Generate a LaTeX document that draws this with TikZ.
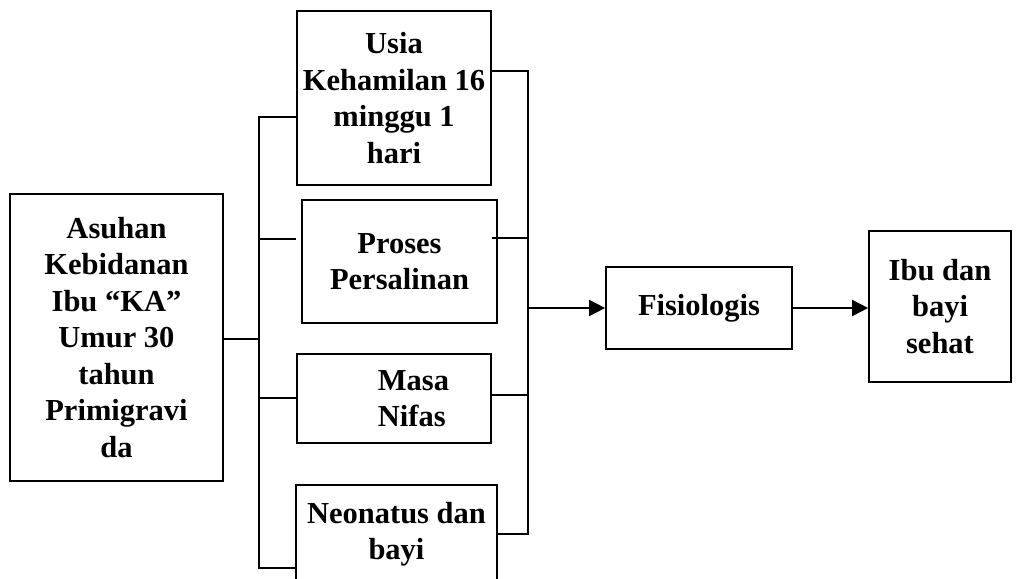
\documentclass[tikz,border=0pt]{standalone}
\usepackage{fontspec}
\setmainfont{Liberation Serif}
\usetikzlibrary{arrows.meta}
\begin{document}
\begin{tikzpicture}[x=1pt,y=-1pt,
  box/.style={draw, line width=1.7pt, align=center, inner sep=0pt,
    font=\fontsize{30.5}{36.5}\selectfont\bfseries},
  conn/.style={line width=1.8pt},
  arr/.style={conn,-{Triangle[length=16pt,width=16pt]}}]
\useasboundingbox (0,0) rectangle (1016,578);
\clip (0,0) rectangle (1016,578);
% boxes
\node[box, minimum width=213pt, minimum height=287pt] (left) at (116.5,337.5)
  {Asuhan\\Kebidanan\\Ibu “KA”\\Umur 30\\tahun\\Primigravi\\da};
\node[box, minimum width=194pt, minimum height=174pt] (usia) at (394,98)
  {Usia\\Kehamilan 16\\minggu 1\\hari};
\node[box, minimum width=195pt, minimum height=123pt] (proses) at (399.5,261.5)
  {Proses\\Persalinan};
\node[box, align=left, minimum width=194pt, minimum height=89pt] (masa) at (394,398.5)
  {\hspace*{39pt}Masa\\\hspace*{39pt}Nifas};
\node[box, minimum width=201pt, minimum height=98pt] (neo) at (396.5,534)
  {Neonatus dan\\bayi};
\node[box, minimum width=186pt, minimum height=82pt] (fis) at (699,308)
  {Fisiologis};
\node[box, minimum width=142pt, minimum height=151pt] (ibu) at (940,306.5)
  {Ibu dan\\bayi\\sehat};
% bus coordinates
\coordinate (bt) at (259,117);
\coordinate (bb) at (259,568);
\coordinate (lj) at (259,339);
\coordinate (pj) at (259,239);
\coordinate (pe) at (296,239);
\coordinate (mj) at (259,398);
\coordinate (rt) at (528,71);
\coordinate (rb) at (528,534);
\coordinate (pr) at (492,238);
\coordinate (mr) at (528,395);
% left bus
\draw[conn] (usia.west |- bt) -- (bt) -- (bb) -- (neo.west |- bb);
\draw[conn] (left.east |- lj) -- (lj);
\draw[conn] (pj) -- (pe);
\draw[conn] (mj) -- (masa.west |- mj);
% right bus
\draw[conn] (usia.east |- rt) -- (rt) -- (rb) -- (neo.east |- rb);
\draw[conn] (pr) -- (pr -| rt);
\draw[conn] (masa.east |- mr) -- (mr);
% arrows
\draw[arr] (rt |- fis.west) -- (fis.west);
\draw[arr] (fis.east) -- (fis.east -| ibu.west);
\end{tikzpicture}
\end{document}
